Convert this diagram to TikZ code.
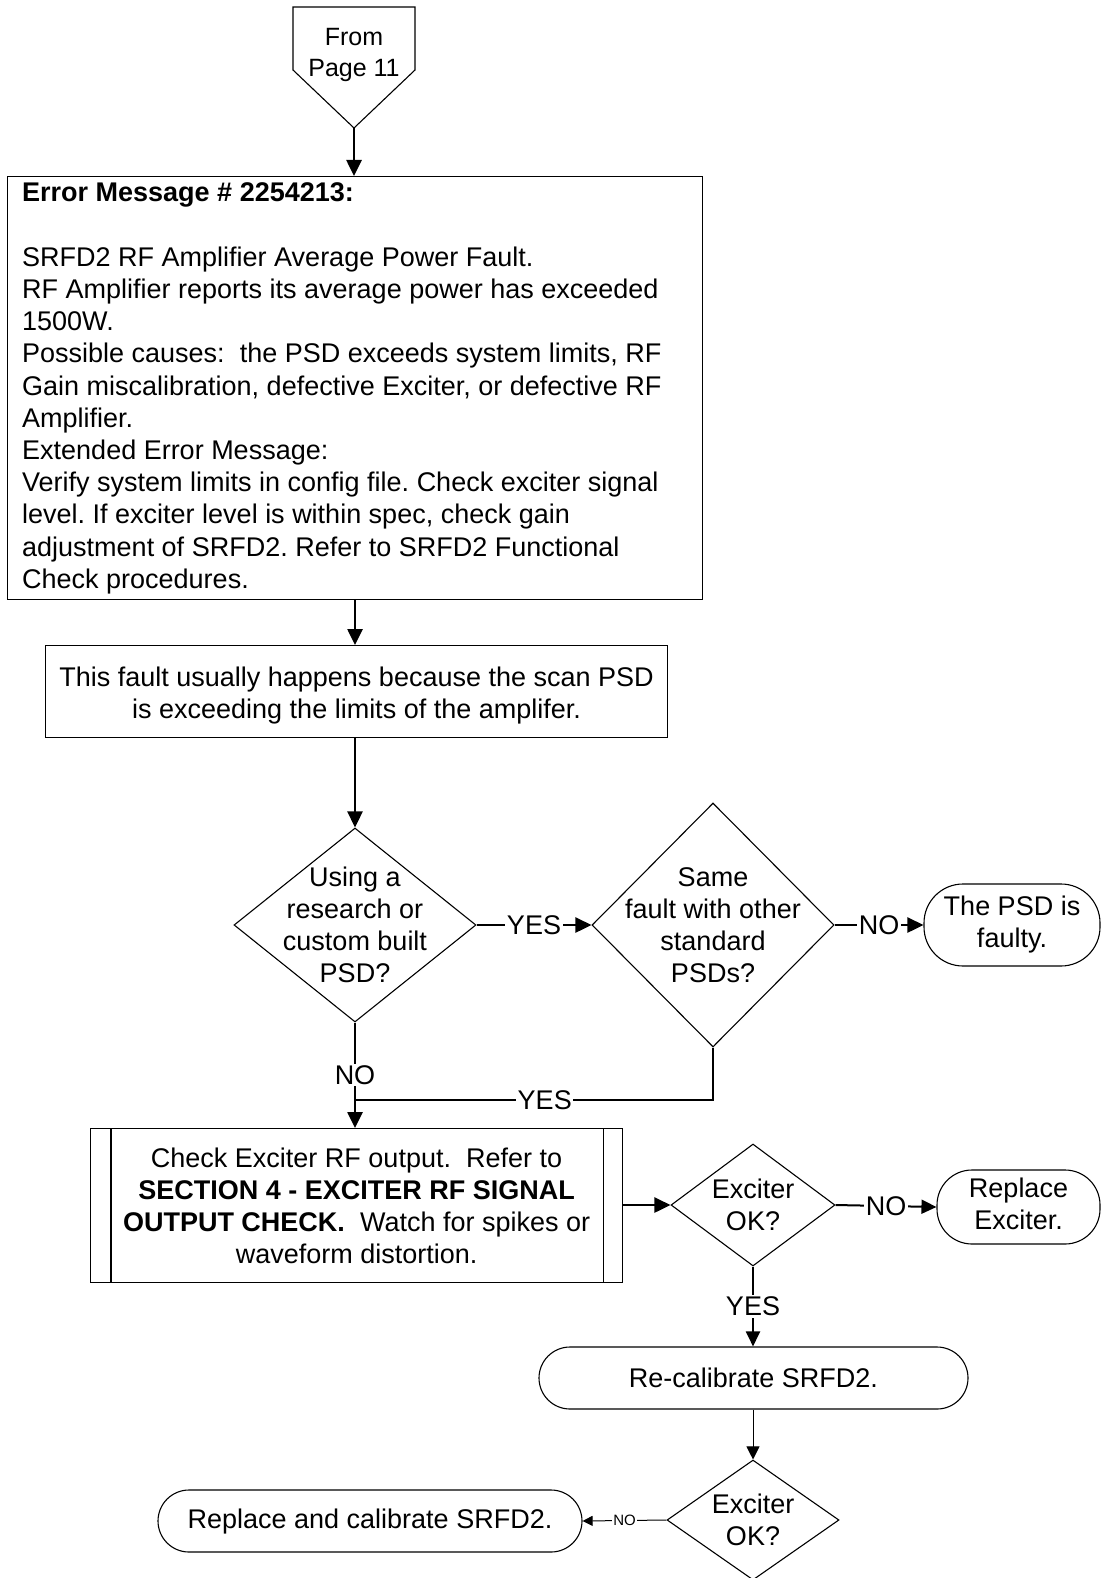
\documentclass[tikz,border=0pt]{standalone}
\usepackage{fontspec}
\setmainfont{Liberation Sans}
\usetikzlibrary{arrows.meta,shapes.geometric}
\frenchspacing
\begin{document}
\begin{tikzpicture}[x=1pt,y=-1pt,
  every node/.style={font=\fontsize{27}{32}\selectfont, inner sep=0pt},
  outline/.style={draw=black, line width=1.1pt},
  procbox/.style={outline, rectangle, anchor=north west},
  decision/.style={outline, diamond},
  terminal/.style={outline, rectangle, rounded corners=#1},
  caption/.style={align=center},
  flow/.style={line width=2.6pt, -{Triangle[length=16pt,width=15pt]}},
  flowline/.style={line width=2.6pt},
  midflow/.style={line width=2pt, -{Triangle[length=15pt,width=14pt]}},
  thinflow/.style={line width=1pt, -{Triangle[length=13pt,width=13pt]}},
  tinyflow/.style={line width=1pt, -{Triangle[length=10pt,width=10pt]}},
  tag/.style={fill=white, inner sep=1.5pt},
]
\useasboundingbox (0,0) rectangle (1103,1578);
\fill[white] (0,0) rectangle (1103,1578);

% off-page connector
\draw[outline] (293,7) -- (415,7) -- (415,70) -- (354,128) coordinate (fromtip)
  -- (293,70) -- cycle;
\node[caption, font=\fontsize{25}{31}\selectfont] (from) at (354,55) {From\\Page 11};

% error message box
\node[procbox, minimum width=695pt, minimum height=423pt] (err) at (7,176) {};
\node[anchor=base west, font=\fontsize{27}{32.2}\selectfont] (errtext) at (22,202)
{\begin{tabular}[t]{@{}l@{}}
\textbf{Error Message \# 2254213:}\\
\\
SRFD2 RF Amplifier Average Power Fault.\\
RF Amplifier reports its average power has exceeded\\
1500W.\\
Possible causes:\ \ the PSD exceeds system limits, RF\\
Gain miscalibration, defective Exciter, or defective RF\\
Amplifier.\\
Extended Error Message:\\
Verify system limits in config file. Check exciter signal\\
level. If exciter level is within spec, check gain\\
adjustment of SRFD2. Refer to SRFD2 Functional\\
Check procedures.
\end{tabular}};

% explanation box
\node[procbox, minimum width=622pt, minimum height=92pt] (note) at (45,645) {};
\node[caption] (notetext) at ([yshift=-4pt]note.center)
{This fault usually happens because the scan PSD\\is exceeding the limits of the amplifer.};

% decisions about the PSD
\node[decision, minimum width=242pt, minimum height=194pt] (d1) at (355,925) {};
\node[caption] (d1text) at (d1.center) {Using a\\research or\\custom built\\PSD?};
\node[decision, minimum width=242pt, minimum height=244pt] (d2) at (713,925) {};
\node[caption] (d2text) at (d2.center) {Same\\fault with other\\standard\\PSDs?};
\node[terminal=39pt, minimum width=176pt, minimum height=82pt] (t1) at (1012,925)
  {\begin{tabular}{@{}c@{}}The PSD is\\faulty.\end{tabular}};

% exciter check (predefined process)
\node[procbox, minimum width=532pt, minimum height=154pt] (chk) at (90,1128) {};
\draw[outline] ([xshift=21pt]chk.north west) -- ([xshift=21pt]chk.south west);
\draw[outline] ([xshift=-20pt]chk.north east) -- ([xshift=-20pt]chk.south east);
\node[caption] (chktext) at (chk.center)
{Check Exciter RF output.\ \ Refer to\\
\textbf{SECTION 4 - EXCITER RF SIGNAL}\\
\textbf{OUTPUT CHECK.}\ \ Watch for spikes or\\
waveform distortion.};

\node[decision, minimum width=164pt, minimum height=122pt] (d3) at (753,1205) {};
\node[caption] (d3text) at (d3.center) {Exciter\\OK?};
\node[terminal=35pt, minimum width=163pt, minimum height=74pt] (t2) at (1018.5,1207)
  {\begin{tabular}{@{}c@{}}Replace\\Exciter.\end{tabular}};

\node[terminal=31pt, minimum width=429pt, minimum height=62pt] (t3) at (753.5,1378)
  {Re-calibrate SRFD2.};

\node[decision, minimum width=172pt, minimum height=120pt] (d4) at (753,1520) {};
\node[caption] (d4text) at (d4.center) {Exciter\\OK?};
\node[terminal=31pt, minimum width=424pt, minimum height=62pt] (t4) at (370,1521)
  {Replace and calibrate SRFD2.};

% connectors
\draw[flow] (fromtip) -- (err.north -| fromtip);
\draw[flow] (err.south -| d1.north) -- (note.north -| d1.north);
\draw[flow] (note.south -| d1.north) -- (d1.north);
\draw[flow] (d1.east) -- node[tag] {YES} (d2.west);
\draw[flow] (d2.east) -- node[tag] {NO} (t1.west);
\coordinate (join) at (d1.south |- 0,1100);
\draw[flow] (d1.south) -- node[tag, pos=0.5] {NO} (chk.north -| d1.south);
\draw[flowline] (d2.south) |- node[tag, pos=0.735] {YES} (join);
\draw[flow] (chk.east |- d3.west) -- (d3.west);
\draw[midflow] (d3.east) -- node[tag] {NO} (t2.west);
\draw[midflow] (d3.south) -- node[tag] {YES} (t3.north -| d3.south);
\draw[thinflow] (t3.south -| d4.north) -- (d4.north);
\draw[tinyflow] (d4.west) -- node[tag, font=\fontsize{15}{18}\selectfont] {NO} (t4.east);
\end{tikzpicture}
\end{document}
